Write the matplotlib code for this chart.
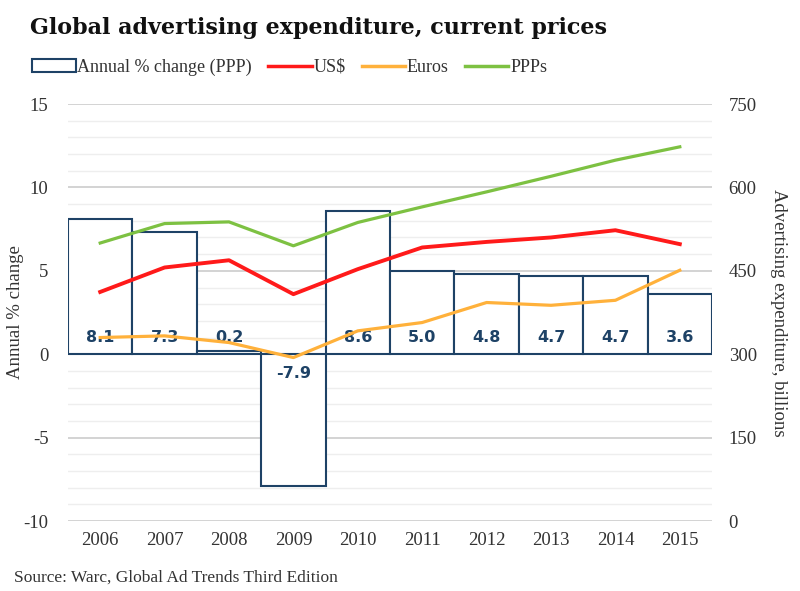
import matplotlib
matplotlib.use("Agg")
import matplotlib.pyplot as plt
from matplotlib.patches import Patch
from matplotlib.lines import Line2D
import numpy as np

years = ["2006", "2007", "2008", "2009", "2010", "2011", "2012", "2013", "2014", "2015"]
annual_change = [8.1, 7.3, 0.2, -7.9, 8.6, 5.0, 4.8, 4.7, 4.7, 3.6]
usd = [412, 456, 469, 408, 453, 492, 502, 510, 523, 498]
euros = [330, 333, 321, 294, 342, 357, 393, 388, 397, 451]
ppps = [500, 535, 538, 495, 537, 565, 592, 620, 649, 673]

NAVY = "#1e4266"
RED = "#ff1a1a"
ORANGE = "#ffb13b"
GREEN = "#7dc142"
TXT = "#333333"
BODY = ["Liberation Serif", "DejaVu Serif"]

plt.rcParams['font.family'] = BODY

fig = plt.figure(figsize=(8.0, 5.91), dpi=100)
ax = fig.add_axes([0.085, 0.1184, 0.805, 0.7056])
ax2 = ax.twinx()

x = np.arange(len(years))
ax.bar(x, annual_change, width=1.0, facecolor="white", edgecolor=NAVY, linewidth=1.5, zorder=2)
for xi, v in zip(x, annual_change):
    yy = 1.0 if v >= 0 else -1.15
    ax.text(xi, yy, f"{v:.1f}", ha="center", va="center", fontsize=11.5,
            fontweight="bold", color=NAVY, family=["DejaVu Sans"], zorder=3)

ax.set_ylim(-10, 15)
ax.set_xlim(-0.5, 9.5)
ax.set_yticks([-10, -5, 0, 5, 10, 15])
ax.set_yticklabels(["-10", "-5", "0", "5", "10", "15"])
for v in range(-10, 16):
    if v % 5 == 0:
        ax.axhline(v, color="#d0d0d0", lw=1.3, zorder=0)
    else:
        ax.axhline(v, color="#eeeeee", lw=1.0, zorder=0)
ax.set_xticks(x)
ax.set_xticklabels(years)

ax2.plot(x, usd, color=RED, lw=2.8, solid_joinstyle="round")
ax2.plot(x, euros, color=ORANGE, lw=2.3, solid_joinstyle="round")
ax2.plot(x, ppps, color=GREEN, lw=2.3, solid_joinstyle="round")
ax2.set_ylim(0, 750)
ax2.set_yticks([0, 150, 300, 450, 600, 750])

for a in (ax, ax2):
    for s in a.spines.values():
        s.set_visible(False)
    a.tick_params(length=0, labelsize=13.5, colors=TXT)
ax.tick_params(axis="x", pad=8)
ax.tick_params(axis="y", pad=14)
ax2.tick_params(axis="y", pad=12)

ax.set_ylabel("Annual % change", fontsize=13.5, color=TXT, labelpad=0)
ax2.set_ylabel("Advertising expenditure, billions", fontsize=13.5, color=TXT,
               rotation=-90, labelpad=22)

fig.text(0.0375, 0.952, "Global advertising expenditure, current prices",
         fontsize=16, fontweight="bold", family=["DejaVu Serif"], color="#111111",
         va="center", ha="left")

handles = [Patch(facecolor="white", edgecolor=NAVY, linewidth=1.5),
           Line2D([0], [0], color=RED, lw=2.5),
           Line2D([0], [0], color=ORANGE, lw=2.5),
           Line2D([0], [0], color=GREEN, lw=2.5)]
labels = ["Annual % change (PPP)", "US$", "Euros", "PPPs"]
fig.legend(handles, labels, loc="center left", bbox_to_anchor=(0.02, 0.886),
           ncol=4, frameon=False, fontsize=13, handlelength=2.4, handletextpad=0.1,
           columnspacing=0.9, labelcolor=TXT)

fig.text(0.018, 0.023, "Source: Warc, Global Ad Trends Third Edition", fontsize=12.5,
         color=TXT, ha="left", va="center")

fig.savefig("out.png", dpi=100, facecolor="white")
